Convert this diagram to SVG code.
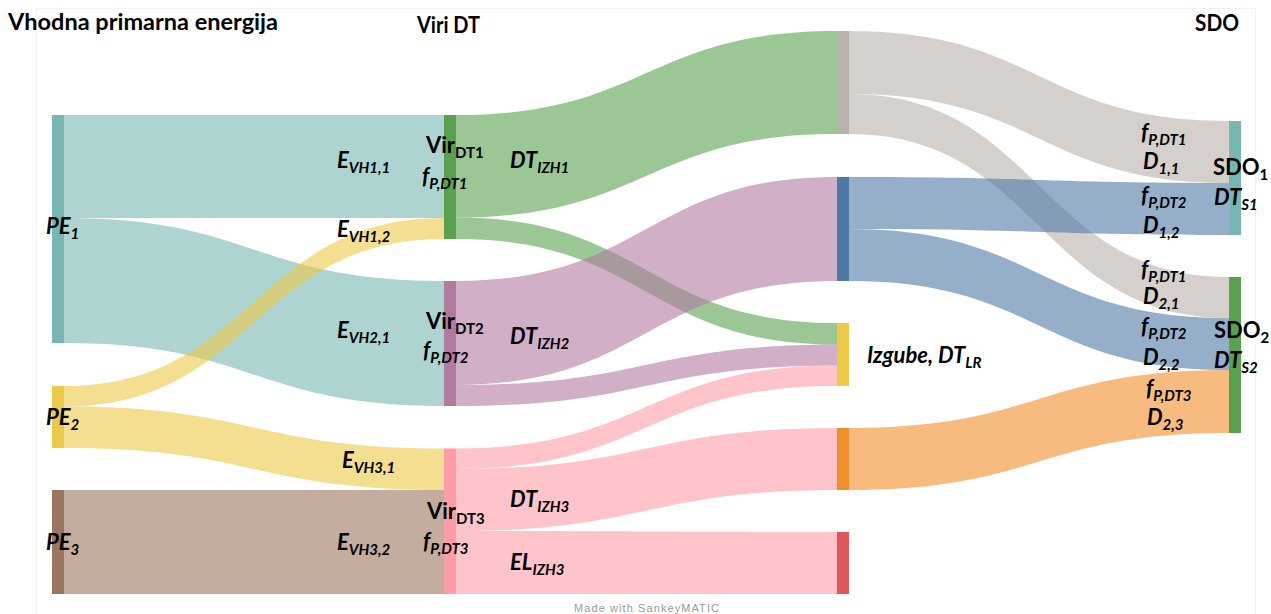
<svg xmlns="http://www.w3.org/2000/svg" width="1271" height="614" viewBox="0 0 1271 614">
<style>
.t{font-family:Lato,"Liberation Sans",sans-serif;font-weight:700;font-size:22px;fill:#000}
.h{font-size:22px}
.i{font-style:italic}
.s{font-size:15px}
.fl{fill-opacity:0.6}
.frame{stroke:#f2f2f2;stroke-width:1;fill:none}
</style>
<rect width="1271" height="614" fill="#fff"/>
<path class="frame" d="M36.5,614 L36.5,8.5 L1255.5,8.5 L1255.5,614"/>
<g id="titles">
<text class="t h" x="8" y="30" textLength="270" lengthAdjust="spacingAndGlyphs">Vhodna primarna energija</text>
<text class="t h" x="417" y="33" textLength="63" lengthAdjust="spacingAndGlyphs">Viri DT</text>
<text class="t h" x="1195" y="31" textLength="44" lengthAdjust="spacingAndGlyphs">SDO</text>
</g>
<g id="connectors">
<path class="fl" fill="#76b7b2" d="M64,115 C254,115 254,115 444,115 L444,218 C254,218 254,218 64,218 Z"/>
<path class="fl" fill="#76b7b2" d="M64,218 C254,218 254,281 444,281 L444,406 C254,406 254,343 64,343 Z"/>
<path class="fl" fill="#edc948" d="M64,386 C254,386 254,218 444,218 L444,239 C254,239 254,406.5 64,406.5 Z"/>
<path class="fl" fill="#edc948" d="M64,406.5 C254,406.5 254,448.5 444,448.5 L444,490 C254,490 254,448 64,448 Z"/>
<path class="fl" fill="#9c755f" d="M64,490 L444,490 L444,594 L64,594 Z"/>
<path class="fl" fill="#59a14f" d="M456,115 C646.5,115 646.5,31 837,31 L837,134 C646.5,134 646.5,217.5 456,217.5 Z"/>
<path class="fl" fill="#59a14f" d="M456,217.5 C646.5,217.5 646.5,323 837,323 L837,344.5 C646.5,344.5 646.5,239 456,239 Z"/>
<path class="fl" fill="#b07aa1" d="M456,281 C646.5,281 646.5,177 837,177 L837,281 C646.5,281 646.5,385 456,385 Z"/>
<path class="fl" fill="#b07aa1" d="M456,385 C646.5,385 646.5,344.5 837,344.5 L837,365.5 C646.5,365.5 646.5,406 456,406 Z"/>
<path class="fl" fill="#ff9da7" d="M456,448.5 C646.5,448.5 646.5,365.5 837,365.5 L837,386 C646.5,386 646.5,469 456,469 Z"/>
<path class="fl" fill="#ff9da7" d="M456,469 C646.5,469 646.5,428 837,428 L837,490 C646.5,490 646.5,531 456,531 Z"/>
<path class="fl" fill="#ff9da7" d="M456,531 C646.5,531 646.5,532 837,532 L837,594 C646.5,594 646.5,594 456,594 Z"/>
<path class="fl" fill="#bab0ac" d="M849,31 C1039,31 1039,121 1229,121 L1229,183 C1039,183 1039,94 849,94 Z"/>
<path class="fl" fill="#bab0ac" d="M849,94 C1039,94 1039,277 1229,277 L1229,318 C1039,318 1039,134 849,134 Z"/>
<path class="fl" fill="#4e79a7" d="M849,177 C1039,177 1039,183 1229,183 L1229,235 C1039,235 1039,229 849,229 Z"/>
<path class="fl" fill="#4e79a7" d="M849,229 C1039,229 1039,318 1229,318 L1229,370 C1039,370 1039,281 849,281 Z"/>
<path class="fl" fill="#f28e2b" d="M849,428 C1039,428 1039,370 1229,370 L1229,433 C1039,433 1039,490 849,490 Z"/>
</g>
<g id="node-PE1"><rect x="52" y="115" width="12" height="228" fill="#76b7b2"/></g>
<g id="node-PE2"><rect x="52" y="386" width="12" height="62" fill="#edc948"/></g>
<g id="node-PE3"><rect x="52" y="490" width="12" height="104" fill="#9c755f"/></g>
<g id="node-VirDT1"><rect x="444" y="115" width="12" height="124" fill="#59a14f"/></g>
<g id="node-VirDT2"><rect x="444" y="281" width="12" height="125" fill="#b07aa1"/></g>
<g id="node-VirDT3"><rect x="444" y="448.5" width="12" height="145.5" fill="#ff9da7"/></g>
<g id="node-DTIZH1"><rect x="837" y="31" width="12" height="103" fill="#bab0ac"/></g>
<g id="node-DTIZH2"><rect x="837" y="177" width="12" height="104" fill="#4e79a7"/></g>
<g id="node-Izgube"><rect x="837" y="323" width="12" height="63" fill="#edc948"/></g>
<g id="node-DTIZH3"><rect x="837" y="428" width="12" height="62" fill="#f28e2b"/></g>
<g id="node-ELIZH3"><rect x="837" y="532" width="12" height="62" fill="#e15759"/></g>
<g id="node-SDO1"><rect x="1229" y="121" width="12" height="114" fill="#76b7b2"/></g>
<g id="node-SDO2"><rect x="1229" y="277" width="12" height="156" fill="#59a14f"/></g>
<g id="labels">
<text class="t i" x="46" y="234">PE<tspan class="s" dy="5">1</tspan></text>
<text class="t i" x="46" y="425">PE<tspan class="s" dy="5">2</tspan></text>
<text class="t i" x="46" y="550">PE<tspan class="s" dy="5">3</tspan></text>
<text class="t i" x="337" y="168">E<tspan class="s" dy="5">VH1,1</tspan></text>
<text class="t i" x="337" y="237">E<tspan class="s" dy="5">VH1,2</tspan></text>
<text class="t i" x="337" y="338">E<tspan class="s" dy="5">VH2,1</tspan></text>
<text class="t i" x="342" y="468">E<tspan class="s" dy="5">VH3,1</tspan></text>
<text class="t i" x="337" y="550">E<tspan class="s" dy="5">VH3,2</tspan></text>
<text class="t" x="426" y="153">Vir<tspan class="s" dy="5">DT1</tspan></text>
<text class="t i" x="422" y="184">f<tspan class="s" dy="5">P,DT1</tspan></text>
<text class="t" x="426" y="329">Vir<tspan class="s" dy="5">DT2</tspan></text>
<text class="t i" x="423" y="358">f<tspan class="s" dy="5">P,DT2</tspan></text>
<text class="t" x="427" y="519">Vir<tspan class="s" dy="5">DT3</tspan></text>
<text class="t i" x="423" y="549">f<tspan class="s" dy="5">P,DT3</tspan></text>
<text class="t i" x="510" y="168">DT<tspan class="s" dy="5">IZH1</tspan></text>
<text class="t i" x="510" y="344">DT<tspan class="s" dy="5">IZH2</tspan></text>
<text class="t i" x="510" y="507">DT<tspan class="s" dy="5">IZH3</tspan></text>
<text class="t i" x="510" y="570">EL<tspan class="s" dy="5">IZH3</tspan></text>
<text class="t i" x="867" y="363">Izgube, DT<tspan class="s" dy="5">LR</tspan></text>
<text class="t i" x="1141" y="140">f<tspan class="s" dy="5">P,DT1</tspan></text>
<text class="t i" x="1143" y="169">D<tspan class="s" dy="5">1,1</tspan></text>
<text class="t" x="1213" y="175">SDO<tspan class="s" dy="5">1</tspan></text>
<text class="t i" x="1141" y="203">f<tspan class="s" dy="5">P,DT2</tspan></text>
<text class="t i" x="1143" y="233">D<tspan class="s" dy="5">1,2</tspan></text>
<text class="t i" x="1214" y="205">DT<tspan class="s" dy="5">S1</tspan></text>
<text class="t i" x="1141" y="277">f<tspan class="s" dy="5">P,DT1</tspan></text>
<text class="t i" x="1143" y="304">D<tspan class="s" dy="5">2,1</tspan></text>
<text class="t i" x="1141" y="334">f<tspan class="s" dy="5">P,DT2</tspan></text>
<text class="t i" x="1143" y="365">D<tspan class="s" dy="5">2,2</tspan></text>
<text class="t" x="1214" y="338">SDO<tspan class="s" dy="5">2</tspan></text>
<text class="t i" x="1214" y="368">DT<tspan class="s" dy="5">S2</tspan></text>
<text class="t i" x="1146" y="396">f<tspan class="s" dy="5">P,DT3</tspan></text>
<text class="t i" x="1147" y="425">D<tspan class="s" dy="5">2,3</tspan></text>
</g>
<text x="574" y="612" font-family="Liberation Sans, Arial, sans-serif" font-size="11" fill="#999" textLength="145" lengthAdjust="spacing">Made with SankeyMATIC</text>
</svg>
